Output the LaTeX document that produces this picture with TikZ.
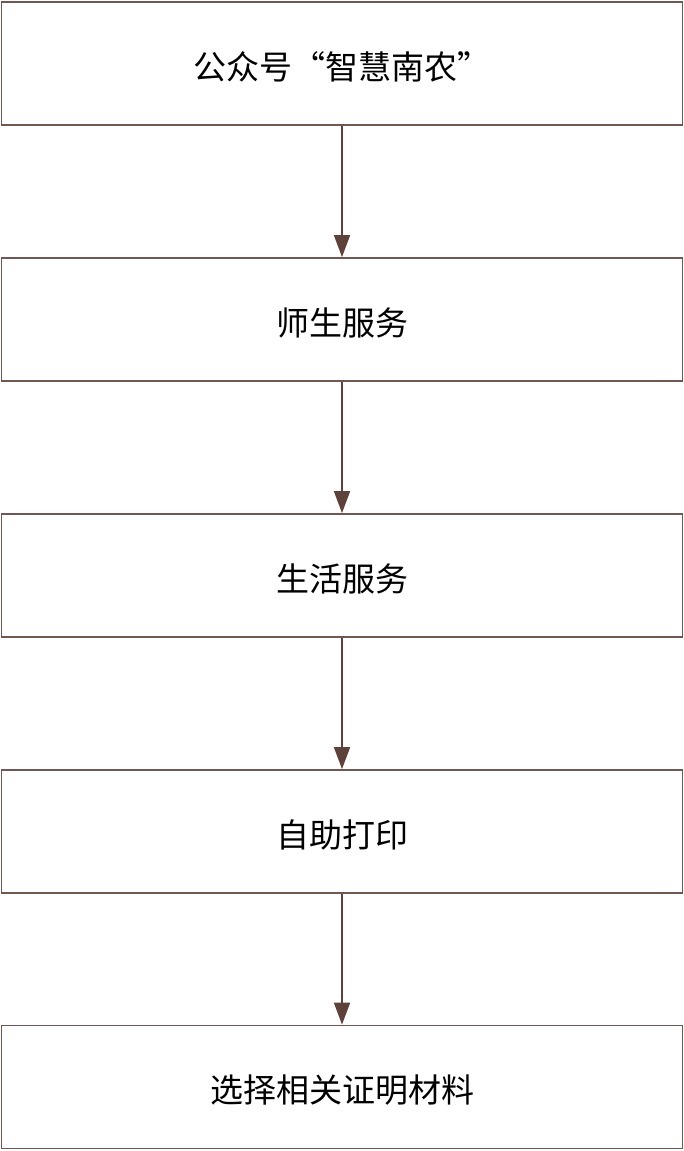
\documentclass[tikz,border=0pt]{standalone}
\usepackage{fontspec}
\setmainfont{Noto Sans CJK SC}
\usetikzlibrary{arrows.meta}
\definecolor{boxline}{HTML}{705751}
\definecolor{arrowc}{HTML}{5E4239}
\tikzset{
  stepbox/.style={draw=boxline, line width=1.8pt, fill=white, minimum width=681pt, minimum height=123pt, inner sep=0pt, font=\fontsize{33}{38}\selectfont},
  steptext/.style={font=\fontsize{33}{38}\selectfont, inner sep=0pt},
  flow/.style={draw=arrowc, line width=1.8pt, -{Triangle[length=22pt,width=16pt]}, shorten >=0pt}
}
\begin{document}
\begin{tikzpicture}[x=1pt,y=-1pt]
\useasboundingbox (0,0) rectangle (684,1151);
\node[stepbox] (n1) at (342,63.5) {};
\node[stepbox] (n2) at (342,319.5) {};
\node[stepbox] (n3) at (342,575.5) {};
\node[stepbox] (n4) at (342,831.5) {};
\node[stepbox] (n5) at (342,1087) {};
\node[steptext] (t1) at ([yshift=-3pt]n1.center) {公众号“智慧南农”};
\node[steptext] (t2) at ([yshift=-3pt]n2.center) {师生服务};
\node[steptext] (t3) at ([yshift=-3pt]n3.center) {生活服务};
\node[steptext] (t4) at ([yshift=-3pt]n4.center) {自助打印};
\node[steptext] (t5) at ([yshift=-3pt]n5.center) {选择相关证明材料};
\draw[flow] (n1) -- (n2);
\draw[flow] (n2) -- (n3);
\draw[flow] (n3) -- (n4);
\draw[flow] (n4) -- (n5);
\end{tikzpicture}
\end{document}
